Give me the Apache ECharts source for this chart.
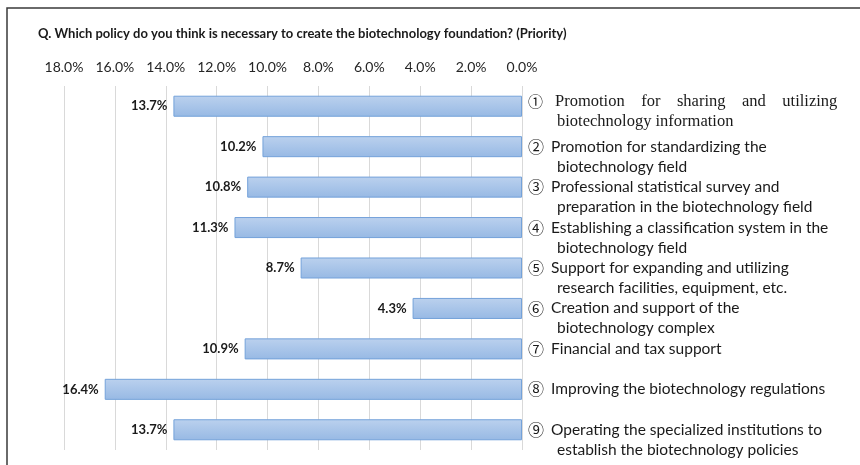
<!DOCTYPE html>
<html><head><meta charset="utf-8">
<script src="https://cdn.jsdelivr.net/npm/echarts@6/dist/echarts.min.js"></script>
<style>html,body{margin:0;padding:0;background:#fff}#c{width:860px;height:465px}</style>
</head><body><div id="c"></div>
<script>
const titleText = 'Q. Which policy do you think is necessary to create the biotechnology foundation? (Priority)';
const categories = [
  '① Promotion for sharing and utilizing\nbiotechnology information',
  '② Promotion for standardizing the\nbiotechnology field',
  '③ Professional statistical survey and\npreparation in the biotechnology field',
  '④ Establishing a classification system in the\nbiotechnology field',
  '⑤ Support for expanding and utilizing\nresearch facilities, equipment, etc.',
  '⑥ Creation and support of the\nbiotechnology complex',
  '⑦ Financial and tax support',
  '⑧ Improving the biotechnology regulations',
  '⑨ Operating the specialized institutions to\nestablish the biotechnology policies'
];
const values = [13.7, 10.2, 10.8, 11.3, 8.7, 4.3, 10.9, 16.4, 13.7];
const tickMax = 18, tickStep = 2;

const font = 'Lato';
function fmtCat(v, i) {
  const lines = v.split('\n');
  const num = lines[0].charAt(0);
  const rest = lines[0].slice(2);
  if (i === 0) {
    return '{b| }\n{n1|' + num + '}{s|' + rest.replace(/ /g, '    ') + '}\n{ind1| }{s|' + lines[1] + '}';
  }
  if (lines.length === 1) return '{n|' + num + '}{t|' + rest + '}';
  return '{b2| }\n{n|' + num + '}{t|' + rest + '}\n{ind| }{t|' + lines[1] + '}';
}
const chart = echarts.init(document.getElementById('c'), null, {renderer: 'canvas'});
chart.setOption({
  animation: false,
  title: {
    text: titleText, left: 33, top: 22,
    textStyle: {fontFamily: font, fontSize: 13, fontWeight: 'bold', color: '#1a1a1a'}
  },
  graphic: [
    {type: 'polyline', shape: {points: [[7, 465], [7, 8], [860, 8]]}, style: {stroke: '#3a3a3a', lineWidth: 1.5, fill: null}}
  ],
  grid: {left: 64, right: 338, top: 86, bottom: 15},
  xAxis: {
    type: 'value', position: 'top', inverse: true, min: 0, max: tickMax, interval: tickStep,
    axisLine: {show: false}, axisTick: {show: false},
    splitLine: {lineStyle: {color: '#d9d9d9', width: 1}},
    axisLabel: {formatter: v => v.toFixed(1) + '%', fontFamily: font, fontSize: 14, color: '#262626', margin: 12}
  },
  yAxis: {
    type: 'category', position: 'right', inverse: true, data: categories,
    axisLine: {show: false}, axisTick: {show: false},
    axisLabel: {
      interval: 0, showMinLabel: true, showMaxLabel: true, hideOverlap: false,
      align: 'left', margin: 6, fontFamily: font, fontSize: 15.5, color: '#1a1a1a', lineHeight: 20,
      formatter: fmtCat,
      rich: {
        b: {fontSize: 8, lineHeight: 10},
        b2: {fontSize: 14, lineHeight: 20},
        ind: {fontSize: 8, width: 29, lineHeight: 20},
        ind1: {fontSize: 8, width: 29, lineHeight: 20},
        n: {fontFamily: 'Noto Sans CJK JP', fontSize: 16, width: 23, color: '#1a1a1a', lineHeight: 20},
        n1: {fontFamily: 'Noto Sans CJK JP', fontSize: 15, width: 27, color: '#1a1a1a', lineHeight: 20},
        t: {fontFamily: font, fontSize: 15.5, color: '#1a1a1a', lineHeight: 20},
        s: {fontFamily: 'Liberation Serif', fontSize: 16.5, color: '#1a1a1a', lineHeight: 20}
      }
    }
  },
  series: [{
    type: 'bar', data: values, barCategoryGap: '48%',
    itemStyle: {
      color: new echarts.graphic.LinearGradient(0, 0, 0, 1, [
        {offset: 0, color: '#bbd1ee'}, {offset: 1, color: '#97b9e4'}
      ]),
      borderColor: '#74a2da', borderWidth: 1
    },
    label: {
      show: true, position: 'left', distance: 6,
      formatter: p => p.value.toFixed(1) + '%',
      fontFamily: font, fontSize: 13, fontWeight: 'bold', color: '#1a1a1a'
    }
  }]
});
</script></body></html>
